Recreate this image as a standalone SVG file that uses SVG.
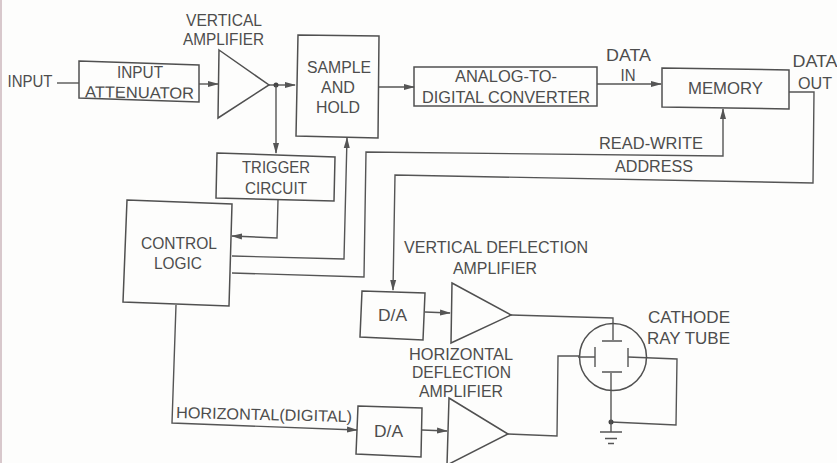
<svg xmlns="http://www.w3.org/2000/svg" width="837" height="463" viewBox="0 0 837 463">
<style>
.b{fill:none;stroke:#505050;stroke-width:1.5}
.c{fill:none;stroke:#555;stroke-width:1.4}
text{font-family:"Liberation Sans",Arial,sans-serif;font-size:16px;fill:#4d4d4d;text-anchor:middle}
</style>
<defs><marker id="a" markerWidth="11" markerHeight="7" refX="10" refY="3.5" orient="auto" markerUnits="userSpaceOnUse"><path d="M0 0.500L11 3.500L0 6.500Z" fill="#555"/></marker></defs>
<rect width="837" height="463" fill="#fdfdfc"/>
<rect x="0" y="0" width="2" height="463" fill="#d8c8cc"/>
<g id="connectors">
<path class="c" d="M57 83H79"/>
<path class="c" d="M199 84H218" marker-end="url(#a)"/>
<path class="c" d="M269 85H295" marker-end="url(#a)"/>
<circle cx="276" cy="85" r="2.500" fill="#444"/>
<path class="c" d="M276 85V153" marker-end="url(#a)"/>
<path class="c" d="M379 87H414" marker-end="url(#a)"/>
<path class="c" d="M597 84H661" marker-end="url(#a)"/>
<path class="c" d="M278 200L277 238L232 236" marker-end="url(#a)"/>
<path class="c" d="M232 256L344 259L347 138" marker-end="url(#a)"/>
<path class="c" d="M232 273L364 277L366 152L723 156V109" marker-end="url(#a)"/>
<path class="c" d="M789 92H814L813 183L395 175L393 290" marker-end="url(#a)"/>
<path class="c" d="M425 312L450 313" marker-end="url(#a)"/>
<path class="c" d="M511 315L613 318V340"/>
<path class="c" d="M176 305L172 423L357 430" marker-end="url(#a)"/>
<path class="c" d="M422 430L447 431" marker-end="url(#a)"/>
<path class="c" d="M508 434L557 436L558 356H579"/>
<path class="c" d="M628 357L677 359L676 425L611 422"/>
<circle cx="611" cy="422" r="2.500" fill="#444"/>
<path class="c" d="M611 373V432"/>
</g>
<g id="input-label"><text x="30" y="87" textLength="45" lengthAdjust="spacingAndGlyphs">INPUT</text></g>
<g id="input-attenuator"><path class="b" d="M79 61L199 65L199 102L79 98Z"/><text x="140" y="78" textLength="46" lengthAdjust="spacingAndGlyphs">INPUT</text><text x="139.500" y="98" textLength="109" lengthAdjust="spacingAndGlyphs" transform="rotate(.8 139 94)">ATTENUATOR</text></g>
<g id="vertical-amplifier"><path class="b" d="M219 50L269 85L218 118Z"/><text x="224" y="26" textLength="76" lengthAdjust="spacingAndGlyphs">VERTICAL</text><text x="223.500" y="45" textLength="81" lengthAdjust="spacingAndGlyphs">AMPLIFIER</text></g>
<g id="sample-hold"><path class="b" d="M298 35L379 36L378 138L296 136Z"/><text x="339" y="73" textLength="64" lengthAdjust="spacingAndGlyphs">SAMPLE</text><text x="338" y="93" textLength="34" lengthAdjust="spacingAndGlyphs">AND</text><text x="338" y="113" textLength="44" lengthAdjust="spacingAndGlyphs">HOLD</text></g>
<g id="adc"><path class="b" d="M414 67H597V106H414Z"/><text x="506" y="82" textLength="102" lengthAdjust="spacingAndGlyphs">ANALOG-TO-</text><text x="506" y="103" textLength="168" lengthAdjust="spacingAndGlyphs">DIGITAL CONVERTER</text></g>
<g id="data-in"><text x="628.500" y="61" textLength="45" lengthAdjust="spacingAndGlyphs">DATA</text><text x="628" y="81" textLength="15" lengthAdjust="spacingAndGlyphs">IN</text></g>
<g id="memory"><path class="b" d="M662 68L789 70V109L662 107Z"/><text x="725.500" y="94" textLength="75" lengthAdjust="spacingAndGlyphs">MEMORY</text></g>
<g id="data-out"><text x="815" y="67" textLength="45" lengthAdjust="spacingAndGlyphs">DATA</text><text x="815" y="89" textLength="34" lengthAdjust="spacingAndGlyphs">OUT</text></g>
<g id="trigger"><path class="b" d="M217 153L335 157L334 201L216 198Z"/><text x="276" y="173" textLength="68" lengthAdjust="spacingAndGlyphs">TRIGGER</text><text x="276" y="194" textLength="62" lengthAdjust="spacingAndGlyphs">CIRCUIT</text></g>
<g id="control"><path class="b" d="M127 200L232 204L229 306L123 302Z"/><text x="179" y="249" textLength="76" lengthAdjust="spacingAndGlyphs">CONTROL</text><text x="178" y="269" textLength="48" lengthAdjust="spacingAndGlyphs">LOGIC</text></g>
<g id="rw-label"><text x="651" y="149" textLength="104" lengthAdjust="spacingAndGlyphs">READ-WRITE</text><text x="654" y="172" textLength="78" lengthAdjust="spacingAndGlyphs">ADDRESS</text></g>
<g id="vda-label"><text x="496" y="253" textLength="184" lengthAdjust="spacingAndGlyphs">VERTICAL DEFLECTION</text><text x="495" y="274" textLength="84" lengthAdjust="spacingAndGlyphs">AMPLIFIER</text></g>
<g id="da1"><path class="b" d="M362 291L425 293L423 340L360 337Z"/><text x="392.500" y="321" textLength="29" lengthAdjust="spacingAndGlyphs">D/A</text></g>
<g id="vda"><path class="b" d="M452 283L511 315L451 343Z"/></g>
<g id="hda-label"><text x="461" y="360" textLength="104" lengthAdjust="spacingAndGlyphs">HORIZONTAL</text><text x="461.500" y="378" textLength="99" lengthAdjust="spacingAndGlyphs">DEFLECTION</text><text x="461" y="397" textLength="84" lengthAdjust="spacingAndGlyphs">AMPLIFIER</text></g>
<g id="da2"><path class="b" d="M358 406L422 408L421 457L356 454Z"/><text x="388.500" y="437" textLength="29" lengthAdjust="spacingAndGlyphs">D/A</text></g>
<g id="hda"><path class="b" d="M449 398L508 434L447 465Z"/></g>
<g id="horizontal-label"><text x="264" y="420" textLength="176" lengthAdjust="spacingAndGlyphs" transform="rotate(1.300 264 416)">HORIZONTAL(DIGITAL)</text></g>
<g id="crt">
<circle class="b" cx="613" cy="357" r="33.500"/>
<path class="c" d="M602 341H622M595 347V367M628 348V367M595 357H578M602 372H622"/>
<path class="c" d="M600 432H622M605 438.500H617M608 443.500H614"/>
<text x="689" y="323" textLength="82" lengthAdjust="spacingAndGlyphs">CATHODE</text><text x="688.500" y="344" textLength="83" lengthAdjust="spacingAndGlyphs">RAY TUBE</text>
</g>
</svg>
